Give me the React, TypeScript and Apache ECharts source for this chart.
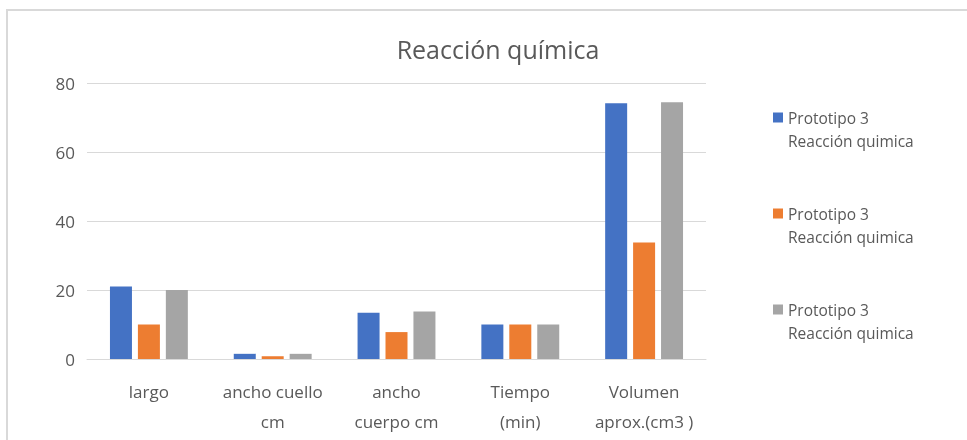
import React, { useEffect, useRef } from "react";
import * as echarts from "echarts";

const categories = ["largo", "ancho cuello\ncm", "ancho\ncuerpo cm", "Tiempo\n(min)", "Volumen\naprox.(cm3 )"];
const series1 = [21, 1.5, 13.4, 10, 74.1];
const series2 = [10, 0.8, 7.8, 10, 33.8];
const series3 = [20, 1.5, 13.8, 10, 74.4];
const seriesLabel = "Prototipo 3\nReacción quimica";
const yTicks = { min: 0, max: 80, interval: 20 };
const colors = ["#4472C4", "#ED7D31", "#A5A5A5"];
const keys = ["s1", "s2", "s3"];

export default function App() {
  const ref = useRef<HTMLDivElement>(null);
  useEffect(() => {
    if (!ref.current) return;
    const chart = echarts.init(ref.current, null, { renderer: "svg" });
    const font = "'Open Sans', sans-serif";
    const data = [series1, series2, series3];
    chart.setOption({
      animation: false,
      title: {
        text: "Reacción química",
        left: 493,
        textAlign: "center",
        top: 31,
        textStyle: { fontFamily: font, fontSize: 25, fontWeight: "normal", color: "#595959" },
      },
      graphic: [
        {
          type: "rect",
          shape: { x: 7, y: 10, width: 1100, height: 600 },
          style: { fill: "none", stroke: "#D9D9D9", lineWidth: 2 },
          silent: true,
        },
      ],
      legend: {
        orient: "vertical",
        left: 768,
        top: 78,
        itemWidth: 10,
        itemHeight: 10,
        itemGap: 27,
        icon: "rect",
        data: keys,
        formatter: () => "\n" + seriesLabel,
        textStyle: { fontFamily: font, fontSize: 15.5, color: "#595959", lineHeight: 23 },
      },
      grid: { left: 87, right: 261, top: 83, bottom: 81 },
      xAxis: {
        type: "category",
        data: categories,
        axisLine: { lineStyle: { color: "#D9D9D9", width: 1 } },
        axisTick: { show: false },
        axisLabel: {
          interval: 0,
          margin: 17,
          fontFamily: font,
          fontSize: 17,
          lineHeight: 30,
          color: "#595959",
        },
      },
      yAxis: {
        type: "value",
        min: yTicks.min,
        max: yTicks.max,
        interval: yTicks.interval,
        axisLine: { show: false },
        axisTick: { show: false },
        splitLine: { lineStyle: { color: "#D9D9D9", width: 1 } },
        axisLabel: { margin: 12, fontFamily: font, fontSize: 17, color: "#595959" },
      },
      series: keys.map((k, i) => ({
        name: k,
        type: "bar",
        data: data[i],
        barWidth: 22,
        barGap: "27%",
        itemStyle: { color: colors[i] },
      })),
    });
    return () => chart.dispose();
  }, []);
  return <div ref={ref} style={{ position: "fixed", left: 0, top: 0, width: 967, height: 440 }} />;
}
